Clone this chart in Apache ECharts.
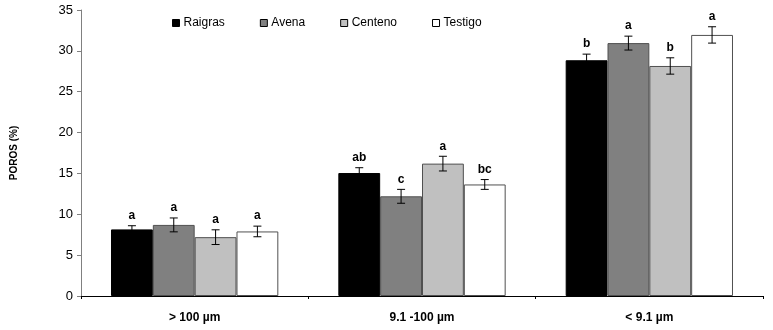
<!DOCTYPE html>
<html><head><meta charset="utf-8">
<script src="https://cdn.jsdelivr.net/npm/echarts@6/dist/echarts.min.js"></script>
<style>html,body{margin:0;padding:0;background:#fff}#c{width:773px;height:330px}</style>
</head><body><div id="c"></div>
<script>
const categories = ['> 100 \u00b5m', '9.1 -100 \u00b5m', '< 9.1 \u00b5m'];
const seriesNames = ['Raigras', 'Avena', 'Centeno', 'Testigo'];
const raigras = [8.15, 15.05, 28.85];
const avena   = [8.7, 12.2, 30.95];
const centeno = [7.2, 16.2, 28.15];
const testigo = [7.9, 13.65, 31.95];
const raigrasErr = [0.45, 0.65, 0.75];
const avenaErr   = [0.85, 0.85, 0.85];
const centenoErr = [0.9, 0.9, 1.0];
const testigoErr = [0.65, 0.6, 1.0];
const raigrasLetters = ['a', 'ab', 'b'];
const avenaLetters   = ['a', 'c', 'a'];
const centenoLetters = ['a', 'a', 'b'];
const testigoLetters = ['a', 'bc', 'a'];
const yTicks = [0, 5, 10, 15, 20, 25, 30, 35];

const values = [raigras, avena, centeno, testigo];
const errs = [raigrasErr, avenaErr, centenoErr, testigoErr];
const letters = [raigrasLetters, avenaLetters, centenoLetters, testigoLetters];
const colors = ['#000000', '#808080', '#c0c0c0', '#ffffff'];
const CAT_GAP = 0.264;

const barSeries = seriesNames.map((n, i) => ({
  name: n, type: 'bar', data: values[i], barGap: '0%', barCategoryGap: (CAT_GAP*100)+'%',
  itemStyle: { color: colors[i], borderColor: i === 0 ? '#000' : '#505050', borderWidth: 1 },
  animation: false
}));

const errSeries = seriesNames.map((n, i) => ({
  type: 'custom', name: n + ' err', silent: true, z: 10,
  data: values[i].map((v, k) => [k, v, errs[i][k], letters[i][k]]),
  renderItem: function (params, api) {
    const k = api.value(0), v = api.value(1), e = api.value(2);
    const band = api.size([1, 0])[0];
    const bw = band * (1 - CAT_GAP) / 4;
    const c = api.coord([k, v]);
    const x = c[0] + (i - 1.5) * bw;
    const yt = api.coord([k, v + e])[1];
    const yb = api.coord([k, v - e])[1];
    const cap = 4;
    const st = { stroke: '#000', lineWidth: 1 };
    return { type: 'group', children: [
      { type: 'line', shape: { x1: x, y1: yt, x2: x, y2: yb }, style: st },
      { type: 'line', shape: { x1: x - cap, y1: yt, x2: x + cap, y2: yt }, style: st },
      { type: 'line', shape: { x1: x - cap, y1: yb, x2: x + cap, y2: yb }, style: st },
      { type: 'text', style: { text: letters[i][k], x: x, y: yt - 4, align: 'center', verticalAlign: 'bottom',
        font: 'bold 12px "Liberation Sans", Arial, sans-serif', fill: '#000' } }
    ]};
  },
  animation: false
}));

const chart = echarts.init(document.getElementById('c'));
chart.setOption({
  animation: false,
  textStyle: { fontFamily: '"Liberation Sans", Arial, sans-serif' },
  legend: {
    data: seriesNames, left: 167, top: 12, itemWidth: 7, itemHeight: 7, itemGap: 35, icon: 'rect',
    itemStyle: { borderColor: '#000', borderWidth: 1 },
    textStyle: { fontSize: 12, color: '#000', fontFamily: '"Liberation Sans", Arial, sans-serif', padding: [0, 0, 0, -1] }
  },
  grid: { left: 81, right: 10, top: 10, bottom: 34, containLabel: false },
  xAxis: {
    type: 'category', data: categories,
    axisLine: { lineStyle: { color: '#000', width: 1 } },
    axisTick: { show: true, length: 3, lineStyle: { color: '#000' } },
    axisLabel: { fontSize: 12, fontWeight: 'bold', color: '#000', margin: 16 }
  },
  yAxis: {
    type: 'value', min: 0, max: 35, interval: 5,
    name: 'POROS (%)', nameLocation: 'middle', nameGap: 62, nameRotate: 90,
    nameTextStyle: { fontSize: 10, fontWeight: 'bold', color: '#000' },
    splitLine: { show: false },
    axisLine: { show: true, lineStyle: { color: '#808080' } },
    axisTick: { show: true, length: 4, lineStyle: { color: '#808080' } },
    axisLabel: { fontSize: 13, color: '#000', margin: 8,
      formatter: function (v) { return yTicks.indexOf(v) >= 0 ? String(v) : ''; } }
  },
  series: barSeries.concat(errSeries)
});
</script></body></html>
